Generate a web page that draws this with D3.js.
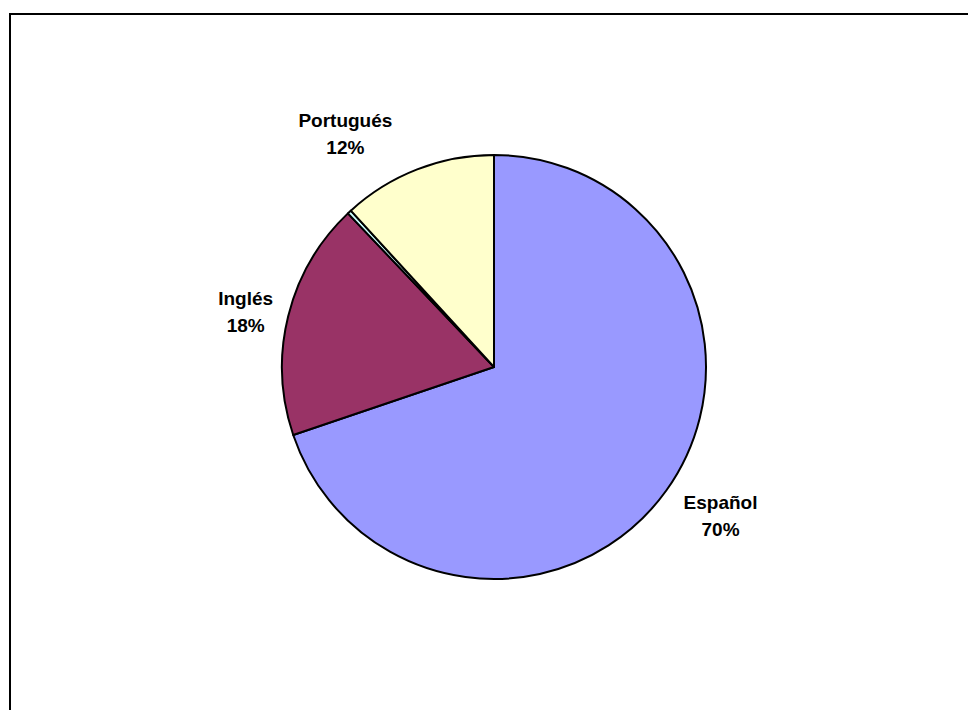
<!DOCTYPE html>
<html>
<head>
<meta charset="utf-8">
<script src="https://cdn.jsdelivr.net/npm/d3@7"></script>
<style>
  body { margin: 0; background: #fff; }
  svg { display: block; }
</style>
</head>
<body>
<script>
var width = 968;
var height = 710;

var languages = ['Español', 'Inglés', 'Otros', 'Portugués'];
var shares = [69.8, 18.1, 0.3, 11.8];
var colors = ['#9999FF', '#993366', '#CCFFFF', '#FFFFCC'];
var showLabel = [true, true, false, true];

var cx = 494, cy = 367, radius = 212;

var svg = d3.select('body').append('svg')
  .attr('width', width)
  .attr('height', height);

// chart frame (runs off the right and bottom edge)
svg.append('rect')
  .attr('x', 10).attr('y', 14)
  .attr('width', 980).attr('height', 720)
  .attr('fill', 'none')
  .attr('stroke', '#000')
  .attr('stroke-width', 2);

var data = languages.map(function(l, i) {
  return { name: l, value: shares[i], color: colors[i], label: showLabel[i] };
});

var pie = d3.pie().sort(null).value(function(d) { return d.value; });
var arc = d3.arc().innerRadius(0).outerRadius(radius);

var g = svg.append('g').attr('transform', 'translate(' + cx + ',' + cy + ')');

var arcs = pie(data);

g.selectAll('path')
  .data(arcs)
  .enter().append('path')
  .attr('d', arc)
  .attr('fill', function(d) { return d.data.color; })
  .attr('stroke', '#000')
  .attr('stroke-width', 2)
  .attr('stroke-linejoin', 'round');

// labels sit outside the pie, nudged the way Excel placed them
var labelR = d3.arc().innerRadius(radius + 52).outerRadius(radius + 52);
var nudge = { 'Español': [12, -4], 'Inglés': [8, 9], 'Portugués': [-53, 13] };

var labels = g.selectAll('text.lbl')
  .data(arcs.filter(function(d) { return d.data.label; }))
  .enter().append('text')
  .attr('class', 'lbl')
  .attr('text-anchor', 'middle')
  .attr('font-family', 'Liberation Sans, Arial, sans-serif')
  .attr('font-weight', 'bold')
  .attr('font-size', '19px')
  .attr('fill', '#000')
  .attr('transform', function(d) {
    var p = labelR.centroid(d);
    var n = nudge[d.data.name];
    return 'translate(' + (p[0] + n[0]) + ',' + (p[1] - 14 + n[1]) + ')';
  });

labels.append('tspan')
  .attr('x', 0).attr('dy', '0.35em')
  .text(function(d) { return d.data.name; });
labels.append('tspan')
  .attr('x', 0).attr('dy', 27)
  .text(function(d) { return Math.round(d.data.value) + '%'; });
</script>
</body>
</html>
